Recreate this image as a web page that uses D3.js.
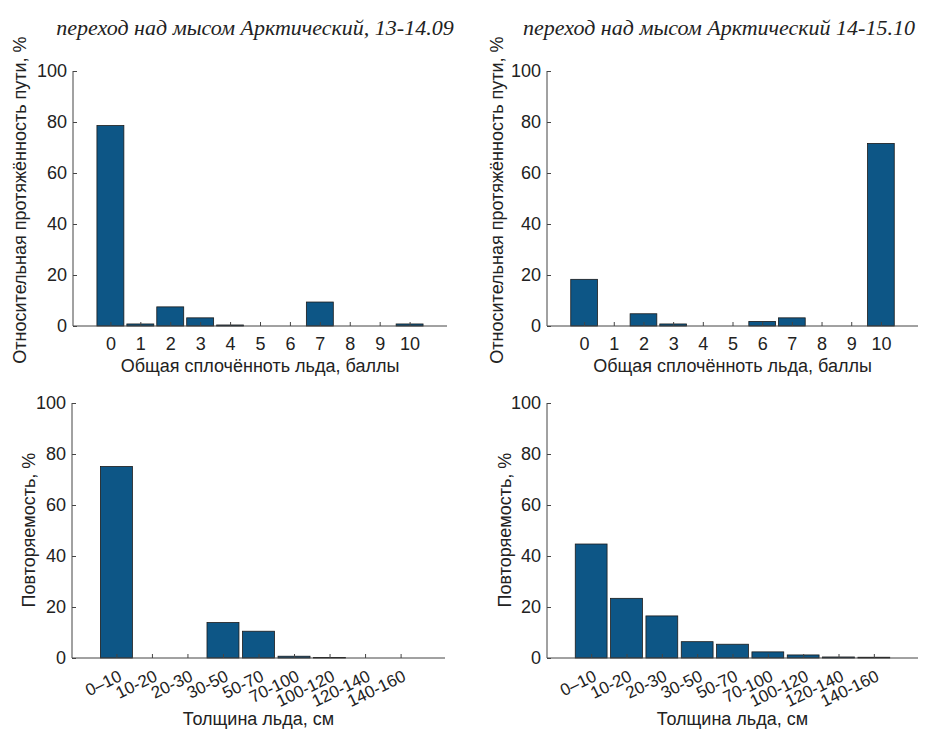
<!doctype html>
<html lang="ru">
<head>
<meta charset="utf-8">
<title>Сплочённость и толщина льда</title>
<script src="https://cdn.jsdelivr.net/npm/d3@7"></script>
<style>
  body { margin: 0; background: #fff; }
  text { font-family: "Liberation Sans", Arial, sans-serif; fill: #222; }
  .title { font-family: "Liberation Serif", "Times New Roman", serif; font-style: italic; font-size: 22px; }
</style>
</head>
<body>
<div id="chart"></div>
<script>
// categories
var balls = ["0", "1", "2", "3", "4", "5", "6", "7", "8", "9", "10"];
var thickness = ["0–10", "10-20", "20-30", "30-50", "50-70", "70-100", "100-120", "120-140", "140-160"];
var yTicks = [0, 20, 40, 60, 80, 100];

// values, %
var concSep = [78.6, 0.8, 7.5, 3.2, 0.4, 0, 0, 9.4, 0, 0, 0.8];
var concOct = [18.3, 0, 4.8, 0.8, 0, 0, 1.8, 3.2, 0, 0, 71.6];
var thickSep = [75.1, 0, 0, 13.9, 10.5, 0.7, 0.2, 0, 0];
var thickOct = [44.7, 23.4, 16.5, 6.4, 5.4, 2.4, 1.2, 0.4, 0.3];

var titles = ["переход над мысом Арктический, 13-14.09", "переход над мысом Арктический 14-15.10"];

var W = 931, H = 729;
var svg = d3.select("#chart").append("svg").attr("width", W).attr("height", H);

var barColor = "#0d5686";
var axisColor = "#444";

function panel(opt) {
  var n = opt.cats.length;
  var x = d3.scaleLinear().domain([-1.25, n - 1 + 1.25]).range([opt.x0, opt.x1]);
  var y = d3.scaleLinear().domain([0, 100]).range([opt.yb, opt.yt]);
  var step = x(1) - x(0);
  var bw = step * 0.9;
  var g = svg.append("g");

  g.selectAll("rect").data(opt.values).enter().append("rect")
    .attr("x", function(d, i) { return x(i) - bw / 2; })
    .attr("y", function(d) { return y(d); })
    .attr("width", bw)
    .attr("height", function(d) { return y(0) - y(d); })
    .attr("fill", barColor)
    .attr("stroke", "#1b1b1b")
    .attr("stroke-width", 0.8);

  // y axis (ticks inside, like matlab)
  var ya = g.append("g").attr("transform", "translate(" + opt.x0 + ",0)")
    .call(d3.axisLeft(y).tickValues(yTicks).tickSize(-4).tickPadding(6).tickFormat(d3.format("d")));
  ya.select(".domain").attr("stroke", axisColor).attr("d", "M0," + y(0) + "V" + y(100));
  ya.selectAll(".tick line").attr("stroke", axisColor);
  ya.selectAll(".tick text").attr("font-size", 18).attr("fill", "#222");

  // x axis
  var xa = g.append("g").attr("transform", "translate(0," + opt.yb + ")")
    .call(d3.axisBottom(x).tickValues(d3.range(n)).tickSize(-4).tickPadding(11)
      .tickFormat(function(i) { return opt.cats[i]; }));
  xa.select(".domain").attr("stroke", axisColor).attr("d", "M" + opt.x0 + ",0H" + opt.x1);
  xa.selectAll(".tick line").attr("stroke", axisColor);
  xa.selectAll(".tick text").attr("font-size", 18).attr("fill", "#222");
  if (opt.rotate) {
    xa.selectAll(".tick text")
      .attr("text-anchor", "end")
      .attr("dy", null)
      .attr("x", 0).attr("y", 0)
      .attr("transform", "translate(6,22) rotate(-26)")
      .attr("font-size", 17);
  }

  g.append("text")
    .attr("x", (opt.x0 + opt.x1) / 2)
    .attr("y", opt.xlabY)
    .attr("text-anchor", "middle")
    .attr("font-size", 18)
    .text(opt.xlabel);

  g.append("text")
    .attr("transform", "translate(" + opt.ylabX + "," + opt.ylabCY + ") rotate(-90)")
    .attr("text-anchor", "middle")
    .attr("font-size", 18)
    .text(opt.ylabel);

  if (opt.title) {
    g.append("text").attr("class", "title")
      .attr("x", opt.titleX).attr("y", 35)
      .attr("text-anchor", "middle")
      .text(opt.title);
  }
}

var concLabel = "Общая сплочённоть льда, баллы";
var thickLabel = "Толщина льда, см";
var lenLabel = "Относительная протяжённость пути, %";
var repLabel = "Повторяемость, %";

panel({cats: balls, values: concSep, x0: 73, x1: 447, yt: 71, yb: 326, xlabY: 372,
  xlabel: concLabel, ylabel: lenLabel, ylabX: 26, ylabCY: 200, title: titles[0], titleX: 255});
panel({cats: balls, values: concOct, x0: 547, x1: 918, yt: 71, yb: 326, xlabY: 372,
  xlabel: concLabel, ylabel: lenLabel, ylabX: 503, ylabCY: 200, title: titles[1], titleX: 719});
panel({cats: thickness, values: thickSep, x0: 72, x1: 445, yt: 403, yb: 658, xlabY: 725, rotate: true,
  xlabel: thickLabel, ylabel: repLabel, ylabX: 35, ylabCY: 530});
panel({cats: thickness, values: thickOct, x0: 547, x1: 918, yt: 403, yb: 658, xlabY: 725, rotate: true,
  xlabel: thickLabel, ylabel: repLabel, ylabX: 511, ylabCY: 530});
</script>
</body>
</html>
